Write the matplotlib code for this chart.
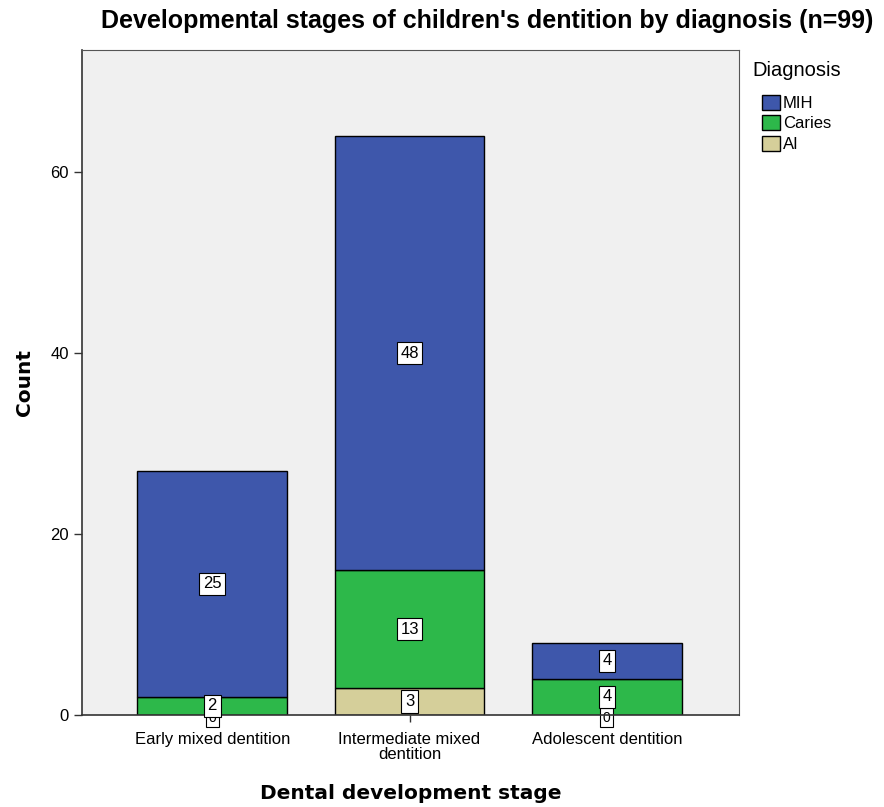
import matplotlib.pyplot as plt
import numpy as np

plt.rcParams['font.family'] = ['Liberation Sans', 'DejaVu Sans']

stages = ['Early mixed dentition', 'Intermediate mixed\ndentition', 'Adolescent dentition']
diagnoses = ['MIH', 'Caries', 'AI']
ai = [0, 3, 0]
caries = [2, 13, 4]
mih = [25, 48, 4]
colors = {'MIH': '#3e57ab', 'Caries': '#2db84a', 'AI': '#d5cf9a'}

fig = plt.figure(figsize=(8.84, 8.07), dpi=100)
ax = fig.add_axes([82 / 884, 92 / 807, 657 / 884, 665 / 807])
ax.set_facecolor('#f0f0f0')

x = np.arange(len(stages))
w = 0.76
bottom = np.zeros(len(stages))
# stack order from bottom: AI, Caries, MIH
for name, vals in [('AI', ai), ('Caries', caries), ('MIH', mih)]:
    vals = np.array(vals, dtype=float)
    ax.bar(x, vals, w, bottom=bottom, color=colors[name], edgecolor='black',
           linewidth=1.0, label=name, zorder=2)
    for xi, b, v in zip(x, bottom, vals):
        # zero-count labels sit at the baseline, partly hidden behind neighbours
        if v > 0:
            ax.text(xi, b + v / 2, '%d' % v, ha='center', va='center', fontsize=12,
                    clip_on=False, zorder=3,
                    bbox=dict(boxstyle='square,pad=0.22', fc='white', ec='black', lw=0.8))
        else:
            ax.text(xi, b - 0.3, '%d' % v, ha='center', va='center', fontsize=10,
                    clip_on=False, zorder=2.5,
                    bbox=dict(boxstyle='square,pad=0.2', fc='white', ec='black', lw=0.8))
    bottom += vals

ax.set_xlim(-0.66, 2.67)
ax.set_ylim(0, 73.5)
ax.set_yticks([0, 20, 40, 60])
ax.set_xticks(x)
ax.set_xticklabels(stages, fontsize=12, linespacing=1.0)
ax.tick_params(axis='y', labelsize=12, direction='out', length=6, width=1, colors='#333333', labelcolor='black')
ax.tick_params(axis='x', direction='out', length=5, width=1, colors='#333333', labelcolor='black', pad=7)
for s in ['top', 'right']:
    ax.spines[s].set_color('#555555')
    ax.spines[s].set_linewidth(0.8)
for s in ['left', 'bottom']:
    ax.spines[s].set_color('#333333')
    ax.spines[s].set_linewidth(1.2)

ax.set_ylabel('Count', fontsize=14.5, fontweight='bold', family='DejaVu Sans', labelpad=12)
ax.set_xlabel('Dental development stage', fontsize=14.5, fontweight='bold', family='DejaVu Sans', labelpad=16)

fig.text(487 / 884, 1 - 21 / 807, "Developmental stages of children's dentition by diagnosis (n=99)",
         ha='center', va='center', fontsize=18, fontweight='bold')

fig.text(752 / 884, 1 - 71 / 807, 'Diagnosis', ha='left', va='center', fontsize=14.5)
handles, labels = ax.get_legend_handles_labels()
order = [labels.index(d) for d in diagnoses]
leg = fig.legend([handles[i] for i in order], [labels[i] for i in order],
                 loc='upper left', bbox_to_anchor=(747 / 884, 1 - 80 / 807),
                 frameon=False, fontsize=12,
                 handlelength=1.1, handleheight=1.0, handletextpad=0.15,
                 labelspacing=0.25)

fig.savefig('out.png', dpi=100)
